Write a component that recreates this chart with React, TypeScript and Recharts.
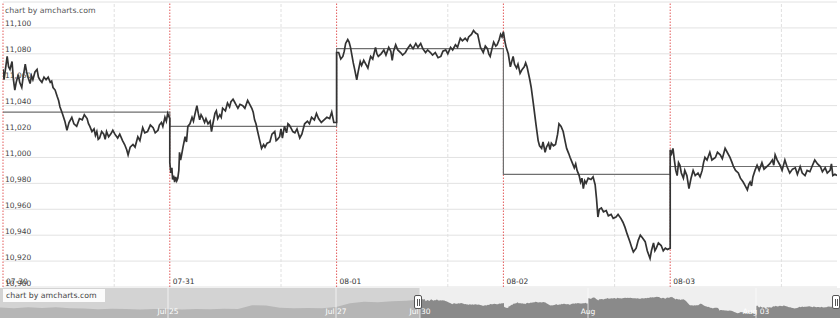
import React from "react";
import {
  ComposedChart,
  Line,
  XAxis,
  YAxis,
  CartesianGrid,
  ReferenceLine,
  AreaChart,
  Area,
} from "recharts";

const FONT = "Verdana, 'DejaVu Sans', sans-serif";

const dayLabels = ["07-30", "07-31", "08-01", "08-02", "08-03"];
const yTicks = [10900, 10920, 10940, 10960, 10980, 11000, 11020, 11040, 11060, 11080, 11100];
const gridTicks = [...yTicks, 11120];
const dailyAverage = [11035, 11024, 11084, 10987, 10993];

// [hour of day, price]
const day1: [number, number][] = [
  [0.0, 11068], [0.15, 11060], [0.3, 11066], [0.6, 11078], [0.8, 11070], [1.0, 11068], [1.3, 11074],
  [1.5, 11060], [1.7, 11052], [1.9, 11058], [2.2, 11064], [2.4, 11058], [2.7, 11054], [2.9, 11062],
  [3.2, 11072], [3.4, 11066], [3.6, 11062], [3.9, 11057], [4.1, 11063], [4.3, 11060], [4.6, 11066],
  [4.9, 11068], [5.1, 11062], [5.3, 11060], [5.6, 11058], [5.9, 11062], [6.2, 11060], [6.5, 11062],
  [6.8, 11058], [7.0, 11059], [7.2, 11054], [7.5, 11052], [7.8, 11047], [8.0, 11044], [8.2, 11039],
  [8.4, 11036], [8.6, 11033], [8.9, 11028], [9.2, 11021], [9.5, 11027], [9.9, 11031], [10.2, 11026],
  [10.6, 11024], [11.0, 11030], [11.4, 11029], [11.7, 11033], [12.1, 11030], [12.3, 11026], [12.5, 11024],
  [12.8, 11020], [13.1, 11022], [13.3, 11017], [13.5, 11020], [13.7, 11014], [13.9, 11015], [14.2, 11020],
  [14.5, 11018], [14.7, 11014], [14.9, 11020], [15.2, 11016], [15.5, 11018], [15.8, 11021], [16.1, 11018],
  [16.5, 11015], [16.8, 11018], [17.2, 11013], [17.5, 11010], [17.8, 11006], [18.0, 11002], [18.3, 11008],
  [18.7, 11010], [19.0, 11008], [19.4, 11016], [19.7, 11013], [20.1, 11023], [20.4, 11019], [20.8, 11020],
  [21.2, 11025], [21.6, 11023], [21.9, 11019], [22.3, 11021], [22.5, 11025], [22.8, 11027], [23.0, 11024],
  [23.3, 11031], [23.5, 11028], [23.7, 11034], [24.0, 11030],
];
const day2: [number, number][] = [
  [0.0, 10996], [0.15, 10988], [0.3, 10992], [0.4, 10983], [0.55, 10986], [0.7, 10981], [0.85, 10985],
  [1.0, 10982], [1.15, 10984], [1.3, 10990], [1.4, 11004], [1.55, 10998], [1.7, 11002], [1.9, 11008],
  [2.2, 11016], [2.4, 11012], [2.6, 11024], [2.9, 11026], [3.2, 11031], [3.4, 11028], [3.6, 11033],
  [3.9, 11040], [4.1, 11034], [4.3, 11029], [4.5, 11033], [4.7, 11031], [5.0, 11027], [5.2, 11030],
  [5.5, 11026], [5.8, 11028], [6.0, 11020], [6.2, 11026], [6.5, 11034], [6.7, 11036], [6.9, 11030],
  [7.2, 11033], [7.4, 11031], [7.6, 11038], [8.0, 11036], [8.3, 11042], [8.6, 11039], [8.8, 11043],
  [9.1, 11045], [9.3, 11043], [9.5, 11041], [9.8, 11038], [10.1, 11041], [10.5, 11040], [10.8, 11038],
  [11.2, 11044], [11.5, 11041], [11.8, 11038], [12.0, 11035], [12.2, 11029], [12.4, 11026], [12.6, 11021],
  [12.9, 11014], [13.2, 11007], [13.5, 11010], [13.7, 11008], [14.0, 11011], [14.4, 11012], [14.7, 11018],
  [15.1, 11020], [15.3, 11013], [15.5, 11014], [15.8, 11016], [16.0, 11022], [16.2, 11015], [16.5, 11024],
  [16.8, 11019], [17.0, 11026], [17.2, 11025], [17.5, 11022], [17.7, 11020], [18.0, 11019], [18.3, 11022],
  [18.7, 11015], [19.0, 11018], [19.4, 11026], [19.8, 11028], [20.1, 11026], [20.4, 11031], [20.8, 11029],
  [21.1, 11034], [21.4, 11030], [21.8, 11027], [22.2, 11029], [22.6, 11031], [23.0, 11030], [23.3, 11035],
  [23.6, 11027], [24.0, 11027],
];
const day3: [number, number][] = [
  [0.0, 11081], [0.3, 11081], [0.6, 11076], [0.9, 11078], [1.1, 11082], [1.3, 11088], [1.6, 11091],
  [1.8, 11089], [2.0, 11085], [2.2, 11079], [2.4, 11073], [2.6, 11068], [2.9, 11060], [3.1, 11066],
  [3.4, 11074], [3.6, 11071], [3.9, 11075], [4.2, 11072], [4.5, 11069], [4.7, 11074], [4.9, 11078],
  [5.2, 11076], [5.6, 11085], [5.8, 11080], [6.0, 11078], [6.4, 11080], [6.8, 11083], [7.1, 11079],
  [7.5, 11085], [7.8, 11082], [8.0, 11075], [8.2, 11082], [8.5, 11087], [8.8, 11083], [9.2, 11081],
  [9.5, 11079], [9.9, 11081], [10.2, 11084], [10.6, 11087], [11.0, 11084], [11.4, 11088], [11.7, 11085],
  [12.1, 11088], [12.4, 11084], [12.8, 11081], [13.1, 11083], [13.5, 11081], [13.8, 11079], [14.2, 11081],
  [14.6, 11077], [15.0, 11078], [15.3, 11082], [15.7, 11083], [16.0, 11080], [16.4, 11085], [16.7, 11083],
  [17.1, 11087], [17.4, 11085], [17.8, 11092], [18.1, 11090], [18.5, 11092], [18.8, 11090], [19.0, 11093],
  [19.4, 11095], [19.7, 11098], [20.0, 11096], [20.3, 11095], [20.5, 11090], [20.7, 11085], [20.9, 11083],
  [21.1, 11081], [21.4, 11086], [21.7, 11084], [21.9, 11080], [22.1, 11078], [22.4, 11085], [22.6, 11089],
  [22.9, 11086], [23.1, 11087], [23.4, 11091], [23.6, 11095], [23.8, 11093], [24.0, 11097],
];
const day4: [number, number][] = [
  [0.0, 11097], [0.2, 11090], [0.4, 11085], [0.7, 11080], [1.0, 11070], [1.2, 11074], [1.4, 11078],
  [1.6, 11072], [1.9, 11069], [2.1, 11072], [2.4, 11065], [2.7, 11068], [3.0, 11070], [3.2, 11073],
  [3.4, 11070], [3.6, 11065], [3.8, 11060], [4.0, 11054], [4.3, 11042], [4.7, 11025], [5.0, 11013],
  [5.2, 11009], [5.5, 11007], [5.7, 11012], [6.0, 11004], [6.2, 11008], [6.5, 11011], [6.7, 11006],
  [6.9, 11011], [7.2, 11009], [7.5, 11010], [7.8, 11018], [8.0, 11026], [8.3, 11024], [8.6, 11020],
  [8.9, 11012], [9.1, 11007], [9.4, 11003], [9.6, 11000], [9.9, 10996], [10.2, 10992], [10.4, 10995],
  [10.6, 10990], [10.9, 10986], [11.1, 10981], [11.3, 10984], [11.5, 10976], [11.7, 10982], [11.9, 10980],
  [12.2, 10984], [12.6, 10983], [12.9, 10985], [13.2, 10979], [13.4, 10968], [13.6, 10954], [13.8, 10960],
  [14.1, 10961], [14.4, 10958], [14.8, 10959], [15.1, 10955], [15.5, 10956], [15.8, 10953], [16.2, 10954],
  [16.5, 10956], [16.9, 10953], [17.2, 10950], [17.5, 10946], [17.8, 10941], [18.2, 10935], [18.5, 10930],
  [18.7, 10927], [19.1, 10930], [19.4, 10936], [19.7, 10940], [20.0, 10938], [20.4, 10935], [20.7, 10928],
  [21.1, 10922], [21.3, 10928], [21.6, 10934], [21.8, 10928], [22.0, 10930], [22.3, 10934], [22.7, 10932],
  [23.0, 10928], [23.3, 10930], [23.6, 10929], [24.0, 10930],
];
const day5: [number, number][] = [
  [0.0, 11006], [0.2, 11003], [0.4, 11007], [0.6, 10998], [0.8, 10990], [1.0, 10986], [1.2, 10996],
  [1.4, 10994], [1.6, 10988], [1.9, 10984], [2.1, 10990], [2.4, 10986], [2.7, 10976], [3.0, 10984],
  [3.3, 10990], [3.6, 10986], [4.0, 10988], [4.3, 10985], [4.6, 10990], [4.8, 10996], [5.0, 11000],
  [5.3, 10998], [5.7, 11004], [6.0, 10998], [6.5, 11000], [6.8, 11004], [7.2, 11002], [7.5, 10999],
  [7.9, 11007], [8.2, 11004], [8.6, 11000], [8.9, 10996], [9.1, 10993], [9.4, 10990], [9.8, 10988],
  [10.1, 10984], [10.5, 10981], [10.8, 10978], [11.1, 10975], [11.3, 10979], [11.5, 10981], [11.7, 10978],
  [11.9, 10985], [12.2, 10990], [12.5, 10994], [12.8, 10990], [13.2, 10996], [13.5, 10991], [13.9, 10993],
  [14.3, 10995], [14.7, 10998], [14.9, 10994], [15.1, 11002], [15.4, 10998], [15.8, 10994], [16.1, 10990],
  [16.5, 10998], [16.8, 10993], [17.2, 10988], [17.6, 10991], [18.0, 10992], [18.3, 10987], [18.7, 10993],
  [19.0, 10988], [19.4, 10986], [19.7, 10990], [20.1, 10989], [20.4, 10993], [20.8, 10998], [21.2, 10995],
  [21.6, 10993], [21.9, 10989], [22.3, 10992], [22.6, 10988], [23.0, 10990], [23.2, 10995], [23.4, 10986],
  [23.7, 10987], [24.0, 10986],
];
const days = [day1, day2, day3, day4, day5];

// earlier trading days shown only in the scrollbar (Jul 23 - Jul 27)
const historyDays: number[][] = [
  [10986, 10978, 10990, 10982, 10988, 10980],
  [10976, 10968, 10973, 10970, 10966, 10972],
  [10970, 10965, 10972, 10968, 10974, 10970],
  [11010, 11006, 10985, 10978, 10982, 10980],
  [10992, 11030, 11045, 11040, 11050, 11056],
];
const scrollTicks = [2, 4, 5, 7, 9];
const scrollTickLabels = ["Jul 25", "Jul 27", "Jul 30", "Aug", "Aug 03"];

const mainData = days.flatMap((pts, d) => pts.map(([h, v]) => ({ t: d + h / 24, v })));
const stepData = [...dailyAverage, dailyAverage[dailyAverage.length - 1]].map((v, d) => ({ t: d, v }));

const scrollData = [
  ...historyDays.flatMap((vals, d) => vals.map((v, i) => ({ t: d + i / vals.length, a: v }))),
  ...days.flatMap((pts, d) =>
    pts.map(([h, v]) => ({ t: 5 + d + h / 24, b: v, a: d === 0 && h === 0 ? v : undefined }))
  ),
];

const renderYTick = (props: any) => (
  <text x={5} y={props.y - 1.5} fill="#444" fontSize={7.5} fontFamily={FONT} textAnchor="start">
    {Number(props.payload.value).toLocaleString("en-US")}
  </text>
);

function Handle({ left }: { left: number }) {
  return (
    <div
      style={{
        position: "absolute",
        left,
        top: 295,
        width: 6,
        height: 12,
        background: "#fff",
        border: "1px solid #555",
        borderRadius: 2,
        display: "flex",
        justifyContent: "center",
        alignItems: "center",
        gap: 1,
      }}
    >
      <div style={{ width: 1, height: 7, background: "#555" }} />
      <div style={{ width: 1, height: 7, background: "#555" }} />
    </div>
  );
}

export default function App() {
  return (
    <div
      style={{
        position: "absolute",
        left: 0,
        top: 0,
        width: 840,
        height: 320,
        background: "#fff",
        fontFamily: FONT,
        overflow: "hidden",
      }}
    >
      <div style={{ position: "absolute", left: 0, top: 0 }}>
        <ComposedChart width={840} height={288} margin={{ top: 2, right: 3, bottom: 1, left: 3 }}>
          <CartesianGrid horizontal vertical={false} stroke="#e2e2e2" horizontalValues={gridTicks} />
          <XAxis type="number" dataKey="t" domain={[0, 5]} hide allowDataOverflow />
          <YAxis
            type="number"
            domain={[10900, 11120]}
            ticks={yTicks}
            width={40}
            mirror
            axisLine={false}
            tickLine={false}
            tick={renderYTick}
            interval={0}
            allowDataOverflow
          />
          {dayLabels.map((_, d) => (
            <ReferenceLine key={"g" + d} x={d + 16 / 24} stroke="#e0e0e0" strokeDasharray="3 2" />
          ))}
          {dayLabels.map((label, d) => (
            <ReferenceLine
              key={"d" + d}
              x={d}
              stroke="#e35b5b"
              strokeDasharray="1.5 1.5"
              label={{
                value: label,
                position: "insideBottomLeft",
                offset: 3,
                fill: "#333",
                fontSize: 7.5,
                fontFamily: FONT,
              }}
            />
          ))}
          <Line
            data={stepData}
            dataKey="v"
            type="stepAfter"
            stroke="#6f6f6f"
            strokeWidth={1.2}
            dot={false}
            isAnimationActive={false}
          />
          <Line
            data={mainData}
            dataKey="v"
            type="linear"
            stroke="#333"
            strokeWidth={1.7}
            dot={false}
            isAnimationActive={false}
          />
        </ComposedChart>
      </div>

      <div
        style={{
          position: "absolute",
          left: 5,
          top: 5,
          fontSize: 7.8,
          color: "#555",
          lineHeight: "11px",
        }}
      >
        chart by amcharts.com
      </div>

      <div style={{ position: "absolute", left: 0, top: 288, width: 420, height: 30, background: "#d3d3d3" }} />
      <div style={{ position: "absolute", left: 420, top: 288, width: 420, height: 30, background: "#efefef" }} />
      <div style={{ position: "absolute", left: 0, top: 288 }}>
        <AreaChart width={840} height={30} data={scrollData} margin={{ top: 0, right: 0, bottom: 0, left: 0 }}>
          <XAxis type="number" dataKey="t" domain={[0, 10]} hide />
          <YAxis type="number" domain={[10878, 11188]} hide allowDataOverflow />
          <Area dataKey="a" type="linear" stroke="none" fill="#b6b6b6" fillOpacity={1} isAnimationActive={false} />
          <Area dataKey="b" type="linear" stroke="none" fill="#8a8a8a" fillOpacity={1} isAnimationActive={false} />
          {scrollTicks.map((t, i) => (
            <ReferenceLine
              key={t}
              x={t}
              stroke="#fff"
              strokeOpacity={0.7}
              label={{
                value: scrollTickLabels[i],
                position: "insideBottom",
                offset: 4,
                fill: "#fff",
                fontSize: 7.5,
                fontFamily: FONT,
              }}
            />
          ))}
        </AreaChart>
      </div>

      <div
        style={{
          position: "absolute",
          left: 3,
          top: 289,
          width: 102,
          height: 13,
          background: "rgba(255,255,255,0.9)",
          fontSize: 7.8,
          color: "#444",
          lineHeight: "13px",
          paddingLeft: 3,
          boxSizing: "border-box",
        }}
      >
        chart by amcharts.com
      </div>
      <Handle left={414} />
      <Handle left={832} />
    </div>
  );
}
